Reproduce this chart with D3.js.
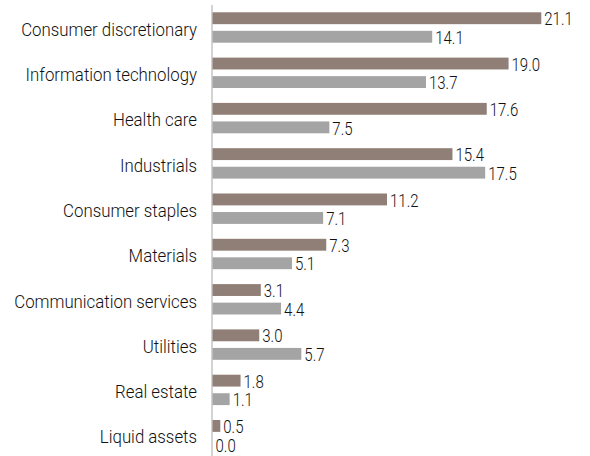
<!DOCTYPE html>
<html>
<head>
<meta charset="utf-8">
<script src="https://cdn.jsdelivr.net/npm/d3@7"></script>
<style>
  body { margin: 0; background: #fff; }
  svg text { font-family: "Roboto", "Liberation Sans", Arial, sans-serif; font-weight: 300; }
</style>
</head>
<body>
<div id="chart"></div>
<script>
const WIDTH = 590;
const HEIGHT = 456;

// data
const categories = [
  "Consumer discretionary",
  "Information technology",
  "Health care",
  "Industrials",
  "Consumer staples",
  "Materials",
  "Communication services",
  "Utilities",
  "Real estate",
  "Liquid assets",
];
const series = ["a", "b"];
const seriesA = [21.1, 19.0, 17.6, 15.4, 11.2, 7.3, 3.1, 3.0, 1.8, 0.5];
const seriesB = [14.1, 13.7, 7.5, 17.5, 7.1, 5.1, 4.4, 5.7, 1.1, 0.0];
const colors = ["#8f7f76", "#a4a4a4"];

const rows = categories.map((c, i) => ({ cat: c, values: [seriesA[i], seriesB[i]] }));

// condensed look: the original face is narrow, so squeeze the text sideways
const LABEL_SQUEEZE = 0.9;
const VALUE_SQUEEZE = 0.82;

const svg = d3
  .select("#chart")
  .append("svg")
  .attr("width", WIDTH)
  .attr("height", HEIGHT);

const x = d3.scaleLinear().domain([0, 22]).range([212, 554.8]);
const y = d3
  .scaleBand()
  .domain(categories)
  .range([12.3, 450.4])
  .paddingInner(0.329);
const ySub = d3
  .scaleBand()
  .domain(series)
  .range([0, y.bandwidth()])
  .paddingInner(0.36);

// axis line
svg
  .append("line")
  .attr("x1", x(0))
  .attr("x2", x(0))
  .attr("y1", 5)
  .attr("y2", HEIGHT)
  .style("stroke", "#c4c4c4")
  .style("stroke-width", "1.5px");

const groups = svg
  .selectAll(".group")
  .data(rows)
  .enter()
  .append("g")
  .attr("class", "group")
  .attr("transform", (d) => `translate(0, ${y(d.cat)})`);

groups
  .selectAll("rect")
  .data((d) => d.values.map((v, i) => ({ key: series[i], v: v, i: i })))
  .enter()
  .append("rect")
  .attr("x", x(0) + 0.5)
  .attr("y", (d) => ySub(d.key))
  .attr("width", (d) => Math.max(0, x(d.v) - x(0)))
  .attr("height", ySub.bandwidth())
  .style("fill", (d) => colors[d.i]);

groups
  .selectAll(".val")
  .data((d) => d.values.map((v, i) => ({ key: series[i], v: v, i: i })))
  .enter()
  .append("text")
  .attr("class", "val")
  .attr(
    "transform",
    (d) =>
      `translate(${x(d.v) + 3.5}, ${ySub(d.key) + ySub.bandwidth() / 2}) scale(${VALUE_SQUEEZE}, 1)`
  )
  .attr("dy", "0.39em")
  .style("font-size", "18.3px")
  .style("fill", "#111")
  .text((d) => d.v.toFixed(1));

// category labels
svg
  .selectAll(".cat")
  .data(categories)
  .enter()
  .append("text")
  .attr("class", "cat")
  .attr(
    "transform",
    (d) => `translate(197, ${y(d) + y.bandwidth() / 2}) scale(${LABEL_SQUEEZE}, 1)`
  )
  .attr("dy", "0.44em")
  .style("text-anchor", "end")
  .style("font-size", "18.7px")
  .style("fill", "#111")
  .text((d) => d);
</script>
</body>
</html>
